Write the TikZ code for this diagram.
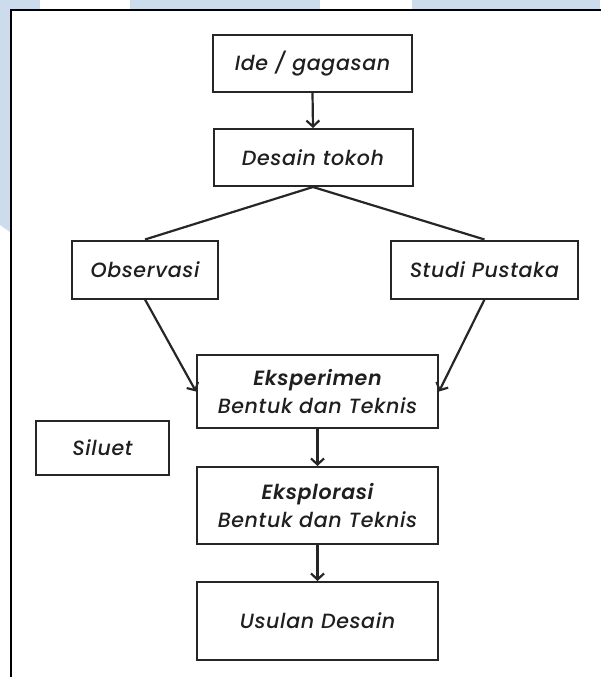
\documentclass[tikz,border=0pt]{standalone}
\usepackage{fontspec}
\setmainfont{Poppins}[ItalicFont={Poppins Medium Italic}, BoldItalicFont={Poppins SemiBold Italic}, LetterSpace=3]
\usetikzlibrary{arrows.meta}
\definecolor{wmblue}{HTML}{CCDCEC}
\tikzset{
  box/.style={draw=black!85, line width=2pt, inner sep=0pt, align=center,
    font=\fontsize{20.6}{27.5}\selectfont\itshape, text=black!88},
  link/.style={draw=black!85, line width=2.2pt},
  arr/.style={link, -{Straight Barb[length=6pt,width=13pt,line width=2.2pt]}}
}
\begin{document}
\begin{tikzpicture}[x=1pt,y=-1pt]
\useasboundingbox (0,0) rectangle (600,677);
% watermark background
\fill[wmblue] (0,0) rectangle (40,11);
\fill[wmblue] (130,0) rectangle (320,11);
\fill[wmblue] (412,0) rectangle (600,11);
\fill[wmblue] (0,0) -- (10,0) -- (10,232) -- (0,225) -- cycle;
% frame
\draw[black, line width=2.2pt] (11,690) -- (11,10) -- (610,10);
% nodes
\node[box, minimum width=199pt, minimum height=57pt] (ide) at (312.5,63.5) {Ide / gagasan};
\node[box, minimum width=199pt, minimum height=57pt] (desain) at (313,157.5) {Desain tokoh};
\node[box, minimum width=146pt, minimum height=58pt] (obs) at (145,269.5) {Observasi};
\node[box, minimum width=187pt, minimum height=58pt] (studi) at (484.5,269.5) {Studi Pustaka};
\node[box, minimum width=241pt, minimum height=73pt] (eksp) at (317.5,391.5) {\textbf{Eksperimen}\\Bentuk dan Teknis};
\node[box, minimum width=133pt, minimum height=54pt] (siluet) at (102.5,448) {Siluet};
\node[box, minimum width=241pt, minimum height=77pt] (eksplor) at (317.5,505.5) {\textbf{Eksplorasi}\\Bentuk dan Teknis};
\node[box, minimum width=241pt, minimum height=78pt] (usulan) at (317.5,621) {Usulan Desain};
% connectors
\draw[arr] (ide.south) -- (desain.north);
\draw[link] (desain.south) -- (obs.north);
\draw[link] (desain.south) -- (studi.north);
\draw[arr] (obs.south) -- (eksp.west);
\draw[arr] (studi.south) -- (eksp.east);
\draw[arr] (eksp.south) -- (eksplor.north);
\draw[arr] (eksplor.south) -- (usulan.north);
\end{tikzpicture}
\end{document}
